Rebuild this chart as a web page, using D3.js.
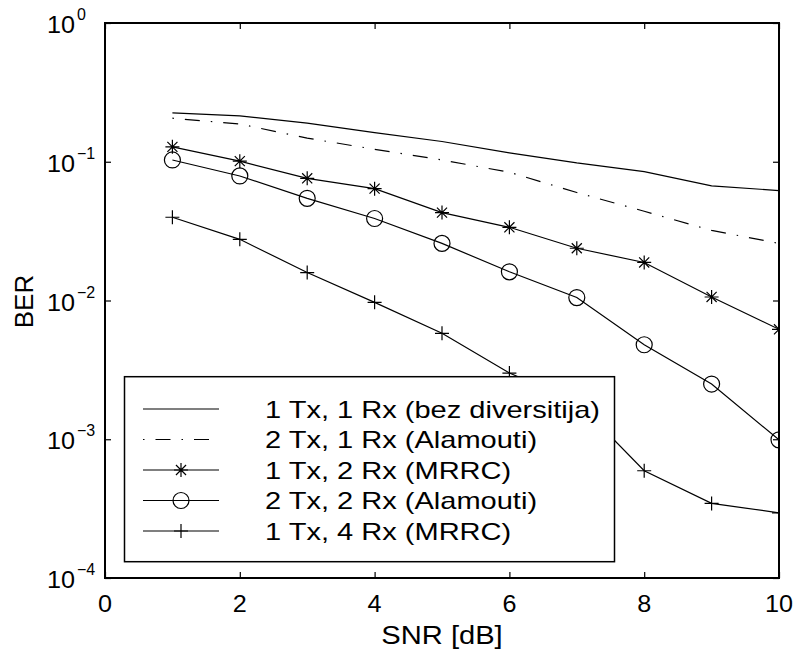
<!DOCTYPE html>
<html>
<head>
<meta charset="utf-8">
<script src="https://cdn.jsdelivr.net/npm/d3@7"></script>
<style>
  html, body { margin: 0; padding: 0; background: #fff; }
  svg { display: block; font-family: "Liberation Sans", Arial, Helvetica, sans-serif; }
</style>
</head>
<body>
<svg id="chart" width="793" height="654"></svg>
<script>
// ---- data ----
const snr = [1, 2, 3, 4, 5, 6, 7, 8, 9, 10];
const ber1x1 = [0.225, 0.214, 0.19, 0.162, 0.14, 0.116, 0.098, 0.085, 0.067, 0.062];
const ber2x1 = [0.206, 0.187, 0.148, 0.123, 0.103, 0.084, 0.060, 0.044, 0.032, 0.0258];
const ber1x2 = [0.128, 0.101, 0.076, 0.064, 0.043, 0.0337, 0.0238, 0.0188, 0.0106, 0.0062];
const ber2x2 = [0.103, 0.079, 0.0545, 0.039, 0.0258, 0.0161, 0.0105, 0.0048, 0.0025, 0.00099];
const ber1x4 = [0.0398, 0.0276, 0.0159, 0.0097, 0.0058, 0.0030, 0.00186, 0.000593, 0.000345, 0.000295];
const seriesNames = [
  "1 Tx, 1 Rx (bez diversitija)",
  "2 Tx, 1 Rx (Alamouti)",
  "1 Tx, 2 Rx (MRRC)",
  "2 Tx, 2 Rx (Alamouti)",
  "1 Tx, 4 Rx (MRRC)"
];
const xTicks = [0, 2, 4, 6, 8, 10];
const yTickExps = [0, -1, -2, -3, -4];
const xLabel = "SNR [dB]";
const yLabel = "BER";

// ---- layout ----
const L = 105, R = 779, T = 23, B = 578;
const svg = d3.select("#chart");
const x = d3.scaleLinear().domain([0, 10]).range([L, R]);
const y = d3.scaleLog().domain([1e-4, 1]).range([B, T]);

const series = [
  { name: seriesNames[0], vals: ber1x1, dash: null, marker: "none" },
  { name: seriesNames[1], vals: ber2x1, dash: "1.5,11,15,11", marker: "none" },
  { name: seriesNames[2], vals: ber1x2, dash: null, marker: "star" },
  { name: seriesNames[3], vals: ber2x2, dash: null, marker: "circle" },
  { name: seriesNames[4], vals: ber1x4, dash: null, marker: "plus" }
];

svg.append("defs").append("clipPath").attr("id", "clip")
  .append("rect").attr("x", L).attr("y", T).attr("width", R - L).attr("height", B - T);

function drawMarker(g, type, cx, cy) {
  if (type === "circle") {
    g.append("circle").attr("cx", cx).attr("cy", cy).attr("r", 8)
      .attr("fill", "none").attr("stroke", "#000").attr("stroke-width", 1.2);
  } else if (type === "plus") {
    const s = 7;
    g.append("path").attr("d", `M${cx - s},${cy}H${cx + s}M${cx},${cy - s}V${cy + s}`)
      .attr("stroke", "#000").attr("stroke-width", 1.2).attr("fill", "none");
  } else if (type === "star") {
    const s = 7, d = s * 0.72;
    g.append("path").attr("d",
      `M${cx - s},${cy}H${cx + s}M${cx},${cy - s}V${cy + s}` +
      `M${cx - d},${cy - d}L${cx + d},${cy + d}M${cx - d},${cy + d}L${cx + d},${cy - d}`)
      .attr("stroke", "#000").attr("stroke-width", 1.2).attr("fill", "none");
  }
}

// ---- data lines ----
const plot = svg.append("g").attr("clip-path", "url(#clip)");
const line = d3.line().x((d, i) => x(snr[i])).y(d => y(d));
series.forEach(s => {
  plot.append("path").attr("d", line(s.vals))
    .attr("fill", "none").attr("stroke", "#000").attr("stroke-width", 1.2)
    .attr("stroke-dasharray", s.dash);
  if (s.marker !== "none") {
    s.vals.forEach((v, i) => drawMarker(plot, s.marker, x(snr[i]), y(v)));
  }
});

// ---- axes ----
const tickVals = yTickExps.map(e => Math.pow(10, e));
const ax = svg.append("g");
ax.append("g").attr("transform", `translate(0,${B})`)
  .call(d3.axisBottom(x).tickValues(xTicks).tickSize(-6).tickFormat(""));
ax.append("g").attr("transform", `translate(0,${T})`)
  .call(d3.axisTop(x).tickValues(xTicks).tickSize(-6).tickFormat(""));
ax.append("g").attr("transform", `translate(${L},0)`)
  .call(d3.axisLeft(y).tickValues(tickVals).tickSize(-6).tickFormat(""));
ax.append("g").attr("transform", `translate(${R},0)`)
  .call(d3.axisRight(y).tickValues(tickVals).tickSize(-6).tickFormat(""));
ax.selectAll(".domain").remove();
ax.selectAll(".tick line").attr("stroke", "#000").attr("stroke-width", 1.2);
svg.append("rect").attr("x", L).attr("y", T).attr("width", R - L).attr("height", B - T)
  .attr("fill", "none").attr("stroke", "#000").attr("stroke-width", 2);

// x tick labels
svg.append("g").selectAll("text").data(xTicks).join("text")
  .attr("transform", d => `translate(${x(d)},612) scale(1.05,1)`)
  .attr("text-anchor", "middle").attr("font-size", 24).text(d => d);

// y tick labels
const yl = svg.append("g");
yTickExps.forEach(e => {
  const ty = y(Math.pow(10, e));
  yl.append("text").attr("transform", `translate(75,${ty + 10}) scale(1.05,1)`)
    .attr("text-anchor", "end").attr("font-size", 24).text("10");
  yl.append("text").attr("x", 77).attr("y", ty - 3).attr("text-anchor", "start")
    .attr("font-size", 16).text(e === 0 ? "0" : "\u2212" + Math.abs(e));
});

// axis labels
svg.append("text").attr("transform", `translate(${(L + R) / 2},644) scale(1.1,1)`)
  .attr("text-anchor", "middle").attr("font-size", 26.5).text(xLabel);
svg.append("text").attr("transform", `translate(33,${(T + B) / 2 + 1}) rotate(-90)`)
  .attr("text-anchor", "middle").attr("font-size", 26).text(yLabel);

// ---- legend ----
const lg = svg.append("g");
lg.append("rect").attr("x", 124.5).attr("y", 376.7).attr("width", 490).attr("height", 185)
  .attr("fill", "#fff").attr("stroke", "#000").attr("stroke-width", 1.5);
const rowY = [409, 439.5, 470, 500.5, 531];
series.forEach((s, i) => {
  const ry = rowY[i];
  lg.append("line").attr("x1", 143).attr("x2", 219).attr("y1", ry).attr("y2", ry)
    .attr("stroke", "#000").attr("stroke-width", 1.2).attr("stroke-dasharray", s.dash);
  if (s.marker !== "none") drawMarker(lg, s.marker, 181, ry);
  lg.append("text").attr("transform", `translate(265,${ry + 8.5}) scale(1.21,1)`)
    .attr("font-size", 24).text(s.name);
});
</script>
</body>
</html>
